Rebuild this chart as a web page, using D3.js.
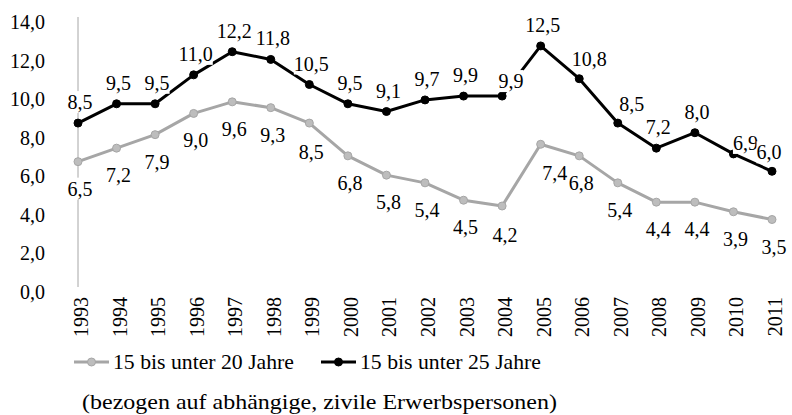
<!DOCTYPE html>
<html>
<head>
<meta charset="utf-8">
<script src="https://cdn.jsdelivr.net/npm/d3@7"></script>
<style>
  body { margin: 0; background: #fff; }
  svg { display: block; font-family: "Liberation Serif", "Times New Roman", serif; }
</style>
</head>
<body>
<div id="chart"></div>
<script>
const years = ['1993', '1994', '1995', '1996', '1997', '1998', '1999', '2000', '2001', '2002',
  '2003', '2004', '2005', '2006', '2007', '2008', '2009', '2010', '2011'];
const under20 = [6.5, 7.2, 7.9, 9.0, 9.6, 9.3, 8.5, 6.8, 5.8, 5.4, 4.5, 4.2, 7.4, 6.8, 5.4, 4.4, 4.4, 3.9, 3.5];
const under25 = [8.5, 9.5, 9.5, 11.0, 12.2, 11.8, 10.5, 9.5, 9.1, 9.7, 9.9, 9.9, 12.5, 10.8, 8.5, 7.2, 8.0, 6.9, 6.0];
const yTicks = [0, 2, 4, 6, 8, 10, 12, 14];
const seriesNames = ['15 bis unter 20 Jahre', '15 bis unter 25 Jahre'];
const note = '(bezogen auf abhängige, zivile Erwerbspersonen)';

const width = 792, height = 415;
const fmt = v => v.toFixed(1).replace('.', ',');

const svg = d3.select('#chart').append('svg').attr('width', width).attr('height', height);

const x = d3.scalePoint().domain(years).range([78, 772]);
const y = d3.scaleLinear().domain([0, 14]).range([287, 17]);

// y axis: only the line and the labels
svg.append('line')
  .attr('x1', 78).attr('x2', 78).attr('y1', y(14)).attr('y2', y(0))
  .attr('stroke', '#a6a6a6').attr('stroke-width', 1);

svg.selectAll('text.ytick').data(yTicks).enter().append('text')
  .attr('class', 'ytick')
  .attr('x', 45).attr('y', d => y(d) + 12)
  .attr('text-anchor', 'end').attr('font-size', 20)
  .text(fmt);

// x labels, rotated
svg.selectAll('text.xtick').data(years).enter().append('text')
  .attr('class', 'xtick')
  .attr('transform', d => `translate(${x(d) + 10},297) rotate(-90)`)
  .attr('text-anchor', 'end').attr('font-size', 20)
  .text(d => d);

const series = [
  { name: seriesNames[0], values: under20, color: '#a6a6a6', fill: '#bdbdbd', below: true },
  { name: seriesNames[1], values: under25, color: '#000', fill: '#000', below: false },
];

const line = d3.line().x((d, i) => x(years[i])).y(d => y(d));

series.forEach(s => {
  svg.append('path').datum(s.values)
    .attr('d', line).attr('fill', 'none')
    .attr('stroke', s.color).attr('stroke-width', 3).attr('stroke-linejoin', 'round');
  svg.selectAll(null).data(s.values).enter().append('circle')
    .attr('cx', (d, i) => x(years[i])).attr('cy', d => y(d)).attr('r', 4)
    .attr('fill', s.fill).attr('stroke', s.color).attr('stroke-width', 1);
});

// data labels (Excel style, white box); a few were moved by hand in the original
const nudge = {
  '1|2004': [9, -15], '1|2006': [10, -20], '1|2007': [14, -19], '1|2010': [12, -11], '1|2011': [-3, -19],
  '0|2005': [14, 29], '0|2004': [3, 29], '0|1999': [2, 29],
};

series.forEach((s, si) => {
  s.values.forEach((v, i) => {
    const off = nudge[si + '|' + years[i]] || (s.below ? [2, 27] : [2, -21]);
    const g = svg.append('g');
    const t = g.append('text')
      .attr('x', x(years[i]) + off[0]).attr('y', y(v) + off[1] + 7)
      .attr('text-anchor', 'middle').attr('font-size', 20)
      .text(fmt(v));
    const bb = t.node().getBBox();
    g.insert('rect', 'text')
      .attr('x', bb.x).attr('y', bb.y).attr('width', bb.width).attr('height', bb.height)
      .attr('fill', '#fff');
  });
});

// legend
const legendX = [74, 321];
series.forEach((s, i) => {
  const lx = legendX[i];
  svg.append('line').attr('x1', lx).attr('x2', lx + 35).attr('y1', 362).attr('y2', 362)
    .attr('stroke', s.color).attr('stroke-width', 3);
  svg.append('circle').attr('cx', lx + 17.5).attr('cy', 362).attr('r', 4)
    .attr('fill', s.fill).attr('stroke', s.color).attr('stroke-width', 1);
  svg.append('text').attr('x', lx + 39).attr('y', 369).attr('font-size', 21)
    .attr('textLength', 181).attr('lengthAdjust', 'spacingAndGlyphs')
    .text(s.name);
});

svg.append('text').attr('x', 82).attr('y', 409).attr('font-size', 21)
  .attr('textLength', 475).attr('lengthAdjust', 'spacingAndGlyphs')
  .text(note);
</script>
</body>
</html>
